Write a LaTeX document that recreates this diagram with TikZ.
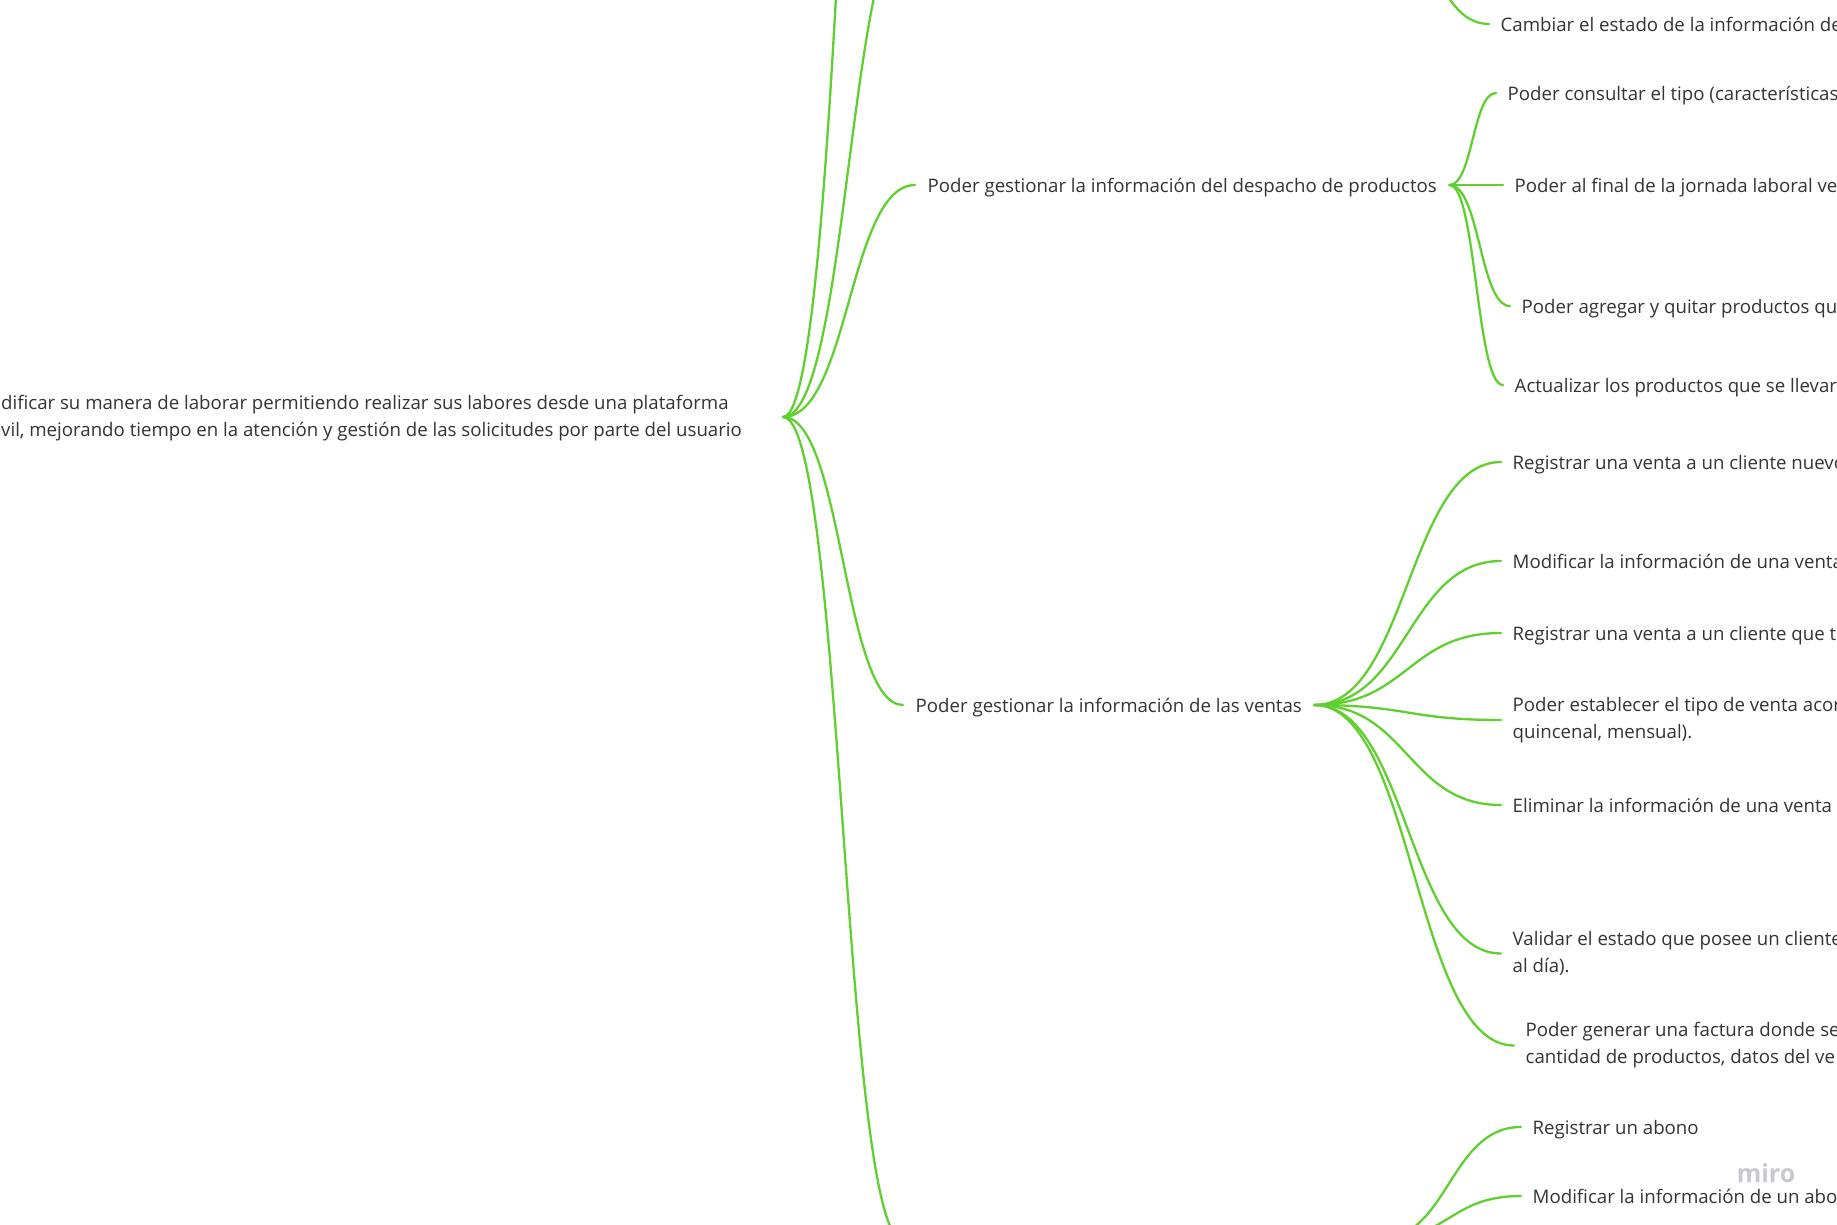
\documentclass[tikz,border=0pt]{standalone}
\usepackage{fontspec}
\setmainfont{Open Sans}
\usetikzlibrary{calc}

\definecolor{linkgreen}{RGB}{96,208,48}
\definecolor{inktext}{RGB}{52,52,52}
\definecolor{markgray}{RGB}{200,200,210}

% curved connector: horizontal tangents at both ends, bend at mid x
\newcommand\branch[2]{%
  \draw[link] let \p1=(#1), \p2=(#2) in
    (\p1) .. controls ({0.5*\x1+0.5*\x2},\y1) and ({0.5*\x1+0.5*\x2},\y2) .. (\p2);}

\begin{document}
\begin{tikzpicture}[x=1pt,y=-1pt,
  link/.style={draw=linkgreen,line width=2.3pt,line cap=round},
  base/.style={font=\fontsize{18.65}{27}\selectfont,text=inktext,inner ysep=0pt,anchor=west,align=left},
  roottext/.style={base,inner xsep=0pt},
  topic/.style={base,inner xsep=12.5pt,text height=17pt,text depth=3pt},
  leaf/.style={base,inner xsep=11.5pt,text height=17pt,text depth=3pt},
  leafii/.style={base,inner xsep=11.5pt}]

\fill[white] (0,0) rectangle (1837,1224);
\useasboundingbox (0,0) rectangle (1837,1224);
\clip (0,0) rectangle (1837,1224);

% root topic
\node[roottext] (root) at (1,418.5) {dificar su manera de laborar permitiendo realizar sus labores desde una plataforma\\vil, mejorando tiempo en la atención y gestión de las solicitudes por parte del usuario};
\coordinate (hub) at (783,417);

% first level
\coordinate (topA) at (915,-932);
\coordinate (topB) at (915,-91);
\coordinate (topBhub) at (1374,-91);
\node[topic] (desp) at (915,185) {Poder gestionar la información del despacho de productos};
\node[topic] (vent) at (903,705) {Poder gestionar la información de las ventas};
\coordinate (abon) at (903,1240);
\coordinate (abonhub) at (1377,1240);

\branch{hub}{topA}
\branch{hub}{topB}
\branch{hub}{desp.west}
\branch{hub}{vent.west}
\branch{hub}{abon}

% second level
\node[leaf] (c0) at (1489,24) {Cambiar el estado de la información de};
\branch{topBhub}{c0.west}

\node[leaf] (d1) at (1496,93) {Poder consultar el tipo (características};
\node[leaf] (d2) at (1503,185) {Poder al final de la jornada laboral ve};
\node[leaf] (d3) at (1510,306) {Poder agregar y quitar productos qu};
\node[leaf] (d4) at (1503,385) {Actualizar los productos que se llevar};
\foreach \k in {d1,d2,d3,d4} {\branch{desp.east}{\k.west}}

\node[leaf] (v1) at (1501,462) {Registrar una venta a un cliente nuevo};
\node[leaf] (v2) at (1501,561) {Modificar la información de una venta};
\node[leaf] (v3) at (1501,633) {Registrar una venta a un cliente que t};
\node[leafii] (v4) at (1501,720) {Poder establecer el tipo de venta acor\\quincenal, mensual).};
\node[leaf] (v5) at (1501,805) {Eliminar la información de una venta};
\node[leafii] (v6) at (1501,953.5) {Validar el estado que posee un cliente\\al día).};
\node[leafii] (v7) at (1514,1045.5) {Poder generar una factura donde se\\cantidad de productos, datos del ve};
\foreach \k in {v1,v2,v3,v4,v5,v6,v7} {\branch{vent.east}{\k.west}}

\node[leaf] (a1) at (1521,1127) {Registrar un abono};
\node[leaf] (a2) at (1521,1196) {Modificar la información de un abono};
\branch{abonhub}{a1.west}
\branch{abonhub}{a2.west}

% watermark
\node[font=\fontsize{25}{25}\selectfont\bfseries,text=markgray,inner sep=0pt] (mark) at (1766,1173) {miro};
\end{tikzpicture}
\end{document}
